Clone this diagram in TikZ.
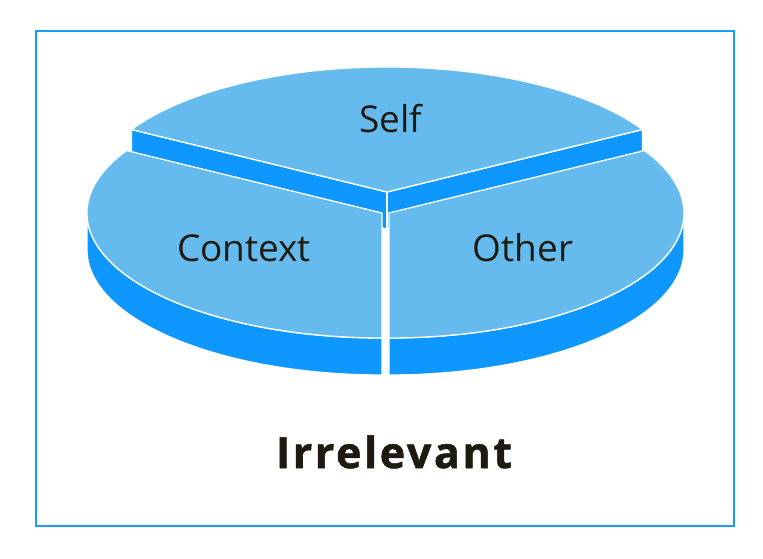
\documentclass[tikz,border=0pt]{standalone}
\usepackage{fontspec}
\setmainfont{Open Sans}
\newfontfamily\heavyfont[LetterSpace=6,FakeBold=1.2]{Open Sans Bold}
\usetikzlibrary{calc}
\definecolor{topblue}{HTML}{66BBEE}
\definecolor{sideblue}{HTML}{0E97FF}
\definecolor{frameblue}{HTML}{1A9BFF}
\definecolor{txt}{HTML}{1E1A10}
\begin{document}
\begin{tikzpicture}[x=1pt,y=1pt,
  topface/.style={fill=topblue,draw=white,line width=1.3pt,line join=round},
  sideface/.style={fill=sideblue,draw=white,line width=1.3pt,line join=round},
  lbl/.style={text=txt,font=\fontsize{37}{40}\selectfont,inner sep=0pt,anchor=base},
  ttl/.style={text=txt,font=\heavyfont\fontsize{43}{48}\selectfont,inner sep=0pt,anchor=base},
  ell/.style={x radius=295,y radius=125}
]
\useasboundingbox (0,0) rectangle (763,558);
\draw[frameblue,line width=2pt] (36,527) rectangle (734,32);
% Self slice
\coordinate (S) at (387,366);
\path (S) ++(150:295 and 125) coordinate (Sa);
\path (S) ++(30:295 and 125) coordinate (Sb);
\draw[sideface] (Sa) -- (S) -- (Sb) -- ($(Sb)+(0,-37)$) -- ($(S)+(0,-37)$) -- ($(Sa)+(0,-37)$) -- cycle;
\draw[sideface] (S) -- ($(S)+(0,-37)$);
\draw[topface] (S) -- (Sb) arc[start angle=30,end angle=150,ell] -- cycle;
% Context slice
\coordinate (C) at (382,345);
\draw[sideface] (C) ++(180:295 and 125) arc[start angle=180,end angle=270,ell] -- ++(0,-37) arc[start angle=270,end angle=180,ell] -- cycle;
\draw[topface] (C) -- ++(150:295 and 125) arc[start angle=150,end angle=270,ell] -- cycle;
% Other slice
\coordinate (D) at (389,345);
\draw[sideface] (D) ++(270:295 and 125) arc[start angle=270,end angle=360,ell] -- ++(0,-37) arc[start angle=360,end angle=270,ell] -- cycle;
\draw[topface] (D) -- ++(270:295 and 125) arc[start angle=270,end angle=390,ell] -- cycle;
% labels
\node[lbl] (self) at (391,425) {Self};
\node[lbl] (context) at (244,297) {Context};
\node[lbl] (other) at (523,297) {Other};
\node[ttl] (irr) at (394,90) {Irrelevant};
\end{tikzpicture}
\end{document}
